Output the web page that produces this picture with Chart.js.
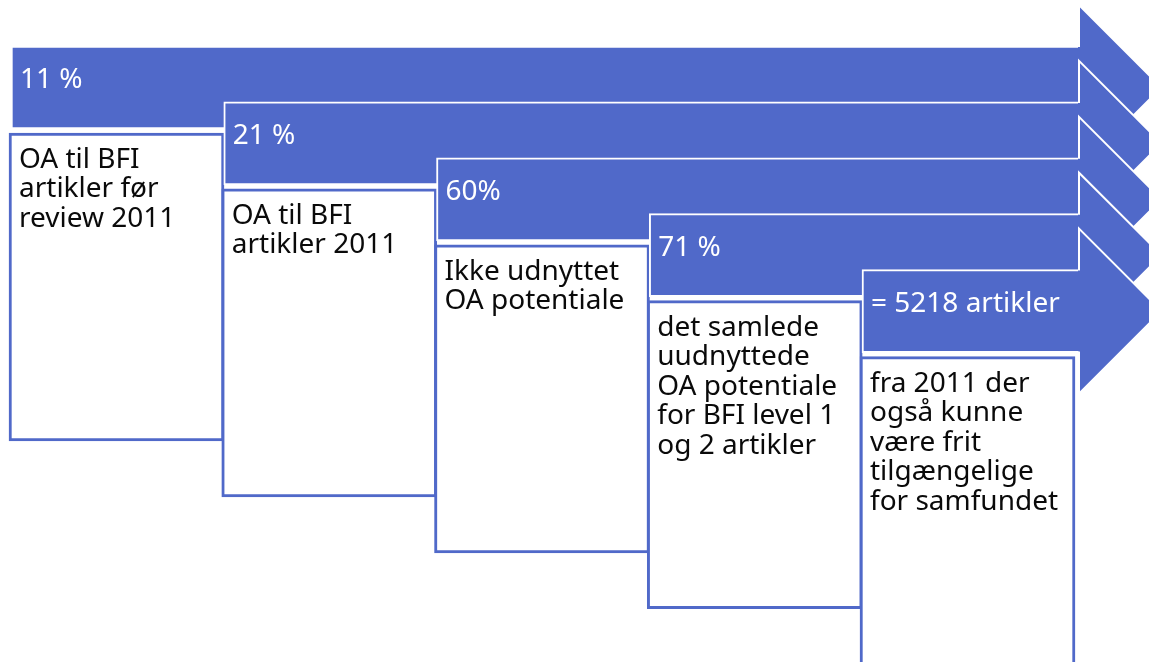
<!DOCTYPE html>
<html>
<head>
<meta charset="utf-8">
<script src="https://cdn.jsdelivr.net/npm/chart.js@4"></script>
<style>
  body { margin: 0; background: #fff; }
  #wrap { width: 1149px; height: 662px; }
</style>
</head>
<body>
<div id="wrap"><canvas id="steps"></canvas></div>
<script>
// values shown on the arrows
var stepLabels = ['11 %', '21 %', '60%', '71 %', '= 5218 artikler'];
// text in the box under each arrow
var stepTexts = [
    ['OA til BFI', 'artikler før', 'review 2011'],
    ['OA til BFI', 'artikler 2011'],
    ['Ikke udnyttet', 'OA potentiale'],
    ['det samlede', 'uudnyttede', 'OA potentiale', 'for BFI level 1', 'og 2 artikler'],
    ['fra 2011 der', 'også kunne', 'være frit', 'tilgængelige', 'for samfundet']
];

// layout of the staircase (scale units == pixels here)
var x0 = 11, dx = 212.75, top0 = 46, dy = 55.9;
var bandH = 83, headBase = 1079, headExt = 41;
var boxGap = 4, boxH = 308, boxW = 215;
var blue = '#5069C9';

function bandTop(i) { return top0 + i * dy; }
function stepLeft(i) { return x0 + i * dx; }
function boxTop(i) { return bandTop(i) + bandH + boxGap; }

var datasets = [];
stepLabels.forEach(function (lab, i) {
    datasets.push({
        label: lab,
        data: [{ x: [stepLeft(i), headBase], y: bandTop(i) + bandH / 2 }],
        backgroundColor: blue,
        borderColor: '#ffffff',
        borderWidth: 2,
        borderSkipped: 'right',
        barThickness: bandH,
        grouped: false,
        order: 100 - i * 2
    });
    datasets.push({
        label: stepTexts[i].join(' '),
        data: [{ x: [stepLeft(i) - 2, stepLeft(i) - 2 + boxW], y: boxTop(i) + boxH / 2 }],
        backgroundColor: '#ffffff',
        borderColor: blue,
        borderWidth: 3,
        borderSkipped: false,
        barThickness: boxH,
        grouped: false,
        order: 99 - i * 2
    });
});

var headsAndText = {
    id: 'headsAndText',
    afterDatasetsDraw: function (chart) {
        var ctx = chart.ctx;
        var xs = chart.scales.x, ys = chart.scales.y;
        ctx.save();
        // arrow heads
        stepLabels.forEach(function (lab, i) {
            var t = bandTop(i), b = t + bandH, c = t + bandH / 2;
            var half = bandH / 2 + headExt;
            var bx = xs.getPixelForValue(headBase);
            var tip = xs.getPixelForValue(headBase + half);
            var pt = ys.getPixelForValue(t + 1), pb = ys.getPixelForValue(b - 1);
            var ht = ys.getPixelForValue(c - half), hb = ys.getPixelForValue(c + half);
            var pc = ys.getPixelForValue(c);
            ctx.beginPath();
            ctx.moveTo(bx - 1, pt);
            ctx.lineTo(bx, pt);
            ctx.lineTo(bx, ht);
            ctx.lineTo(tip, pc);
            ctx.lineTo(bx, hb);
            ctx.lineTo(bx, pb);
            ctx.lineTo(bx - 1, pb);
            ctx.closePath();
            ctx.fillStyle = blue;
            ctx.fill();
            ctx.beginPath();
            ctx.moveTo(bx, pt);
            ctx.lineTo(bx, ht);
            ctx.lineTo(tip, pc);
            ctx.lineTo(bx, hb);
            ctx.lineTo(bx, pb);
            ctx.strokeStyle = '#ffffff';
            ctx.lineWidth = 2;
            ctx.stroke();
        });
        // labels on the arrows
        ctx.textBaseline = 'middle';
        ctx.textAlign = 'left';
        ctx.font = '28px "Noto Sans"';
        ctx.fillStyle = '#ffffff';
        stepLabels.forEach(function (lab, i) {
            ctx.fillText(lab, xs.getPixelForValue(stepLeft(i) + 9), ys.getPixelForValue(bandTop(i) + 34));
        });
        // box texts
        ctx.font = '28px "Noto Sans"';
        ctx.fillStyle = '#0a0a0a';
        stepTexts.forEach(function (lines, i) {
            lines.forEach(function (line, j) {
                ctx.fillText(line, xs.getPixelForValue(stepLeft(i) + 8),
                    ys.getPixelForValue(boxTop(i) + 27 + j * 29.5));
            });
        });
        ctx.restore();
    }
};

var ctx = document.getElementById('steps').getContext('2d');
var myChart = new Chart(ctx, {
    type: 'bar',
    data: { datasets: datasets },
    options: {
        indexAxis: 'y',
        responsive: true,
        maintainAspectRatio: false,
        animation: false,
        layout: { padding: 0 },
        scales: {
            x: { type: 'linear', min: 0, max: 1149, display: false, offset: false },
            y: { type: 'linear', min: 0, max: 662, reverse: true, display: false, offset: false }
        },
        plugins: {
            legend: { display: false },
            tooltip: { enabled: false }
        }
    },
    plugins: [headsAndText]
});
</script>
</body>
</html>
